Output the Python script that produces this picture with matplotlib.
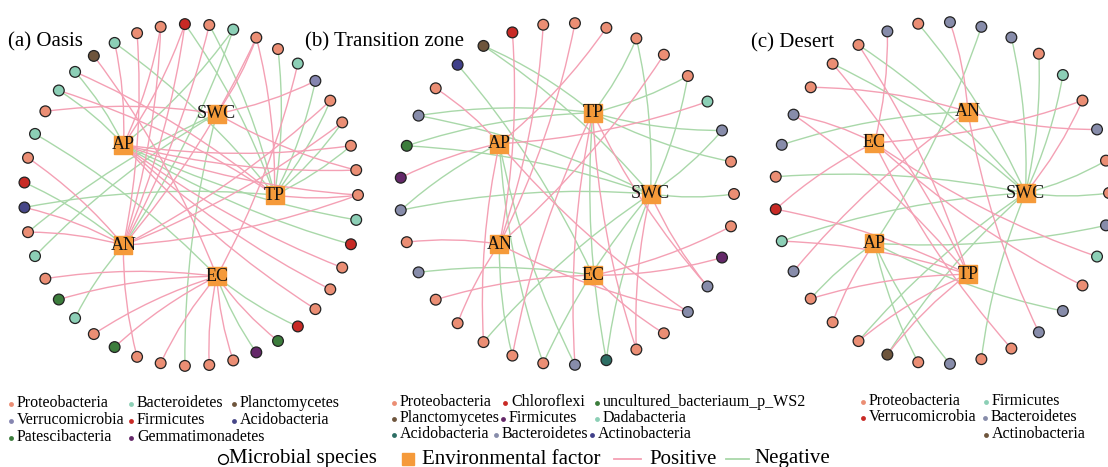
import numpy as np
import matplotlib.pyplot as plt
from matplotlib.path import Path
from matplotlib.patches import PathPatch

plt.rcParams['font.family'] = ['Liberation Serif', 'DejaVu Serif']

# phylum colours
colors = {
    'Proteo': '#EB8E74', 'Bactero_a': '#8CCFB6', 'Plancto': '#6E553C',
    'Verruco_a': '#8585B0', 'Firmi_a': '#C82A25', 'Acido_a': '#474788',
    'Patesci': '#3C7D3C', 'Gemmati': '#642869',
    'Chloro': '#C82A25', 'WS2': '#3C7D3C', 'Firmi_b': '#642869',
    'Dada': '#8CCFB6', 'Acido_b': '#2D6E64', 'Bactero': '#878CAA',
    'Actino_b': '#40408A',
    'Verruco_c': '#C82A25', 'Firmi_c': '#8CCFB6', 'Actino_c': '#6E553C',
}
pos_color = '#F4A0B4'
neg_color = '#A9D8A9'
factor_color = '#F59A3A'

# (a) Oasis: node phyla, counter-clockwise starting from 3 o'clock
oasis_nodes = ['Proteo', 'Proteo', 'Proteo', 'Proteo', 'Proteo', 'Verruco_a', 'Bactero_a',
               'Proteo', 'Proteo', 'Bactero_a', 'Proteo', 'Firmi_a', 'Proteo', 'Proteo',
               'Bactero_a', 'Plancto', 'Bactero_a', 'Bactero_a', 'Proteo', 'Bactero_a',
               'Proteo', 'Firmi_a', 'Acido_a', 'Proteo', 'Bactero_a', 'Proteo', 'Patesci',
               'Bactero_a', 'Proteo', 'Patesci', 'Proteo', 'Proteo', 'Proteo', 'Proteo',
               'Proteo', 'Gemmati', 'Patesci', 'Firmi_a', 'Proteo', 'Proteo', 'Proteo',
               'Firmi_a', 'Bactero_a']
oasis_factors = ['TP', 'SWC', 'AP', 'AN', 'EC']
oasis_pos = [('AP', 11), ('AP', 12), ('AP', 14), ('AP', 2), ('AP', 0), ('AP', 40),
             ('AP', 39), ('AP', 38), ('AP', 1), ('AN', 10), ('AN', 11), ('AN', 12),
             ('AN', 13), ('AN', 8), ('AN', 4), ('AN', 3), ('AN', 0), ('AN', 20),
             ('AN', 22), ('AN', 23), ('AN', 30), ('SWC', 18), ('SWC', 1), ('SWC', 5),
             ('SWC', 8), ('TP', 8), ('TP', 0), ('TP', 16), ('TP', 17), ('EC', 6),
             ('EC', 36), ('EC', 34), ('EC', 33), ('EC', 31), ('EC', 29), ('EC', 28),
             ('EC', 26), ('EC', 25), ('EC', 15)]
oasis_neg = [('AP', 9), ('AP', 16), ('AP', 17), ('AP', 41), ('AP', 42), ('AN', 21),
             ('AN', 27), ('AN', 9), ('SWC', 32), ('SWC', 24), ('SWC', 23), ('TP', 14),
             ('TP', 10), ('TP', 11), ('TP', 7), ('TP', 5), ('TP', 4), ('TP', 3),
             ('TP', 2), ('TP', 22), ('EC', 37), ('EC', 35), ('EC', 19)]

# (b) Transition zone
trans_nodes = ['Proteo', 'Proteo', 'Bactero', 'Dada', 'Proteo', 'Proteo', 'Proteo',
               'Proteo', 'Proteo', 'Proteo', 'Chloro', 'Plancto', 'Actino_b', 'Proteo',
               'Bactero', 'WS2', 'Firmi_b', 'Bactero', 'Proteo', 'Bactero', 'Proteo',
               'Proteo', 'Proteo', 'Proteo', 'Proteo', 'Bactero', 'Acido_b', 'Proteo',
               'Proteo', 'Bactero', 'Bactero', 'Firmi_b', 'Proteo']
trans_factors = ['SWC', 'TP', 'AP', 'AN', 'EC']
trans_pos = [('AP', 7), ('AP', 3), ('AP', 16), ('AP', 13), ('AP', 22), ('AP', 29),
             ('AN', 10), ('AN', 9), ('AN', 8), ('AN', 5), ('AN', 18), ('AN', 21),
             ('AN', 29), ('TP', 23), ('TP', 25), ('TP', 27), ('TP', 30), ('SWC', 30),
             ('SWC', 27), ('EC', 32), ('EC', 31), ('EC', 20), ('EC', 28)]
trans_neg = [('TP', 11), ('TP', 14), ('TP', 15), ('TP', 6), ('TP', 4), ('TP', 2),
             ('TP', 1), ('TP', 26), ('SWC', 0), ('SWC', 2), ('SWC', 4), ('SWC', 6),
             ('SWC', 11), ('SWC', 14), ('SWC', 15), ('SWC', 17), ('SWC', 22), ('SWC', 24),
             ('SWC', 26), ('AP', 17), ('AP', 24), ('AP', 25), ('AN', 23), ('EC', 19),
             ('EC', 12)]

# (c) Desert
desert_nodes = ['Proteo', 'Proteo', 'Bactero', 'Proteo', 'Firmi_c', 'Proteo', 'Bactero',
                'Bactero', 'Bactero', 'Proteo', 'Bactero', 'Proteo', 'Proteo', 'Proteo',
                'Bactero', 'Bactero', 'Proteo', 'Verruco_c', 'Firmi_c', 'Bactero',
                'Proteo', 'Proteo', 'Proteo', 'Actino_c', 'Proteo', 'Bactero', 'Proteo',
                'Proteo', 'Bactero', 'Bactero', 'Proteo', 'Firmi_c', 'Bactero']
desert_factors = ['SWC', 'AN', 'EC', 'AP', 'TP']
desert_pos = [('AN', 8), ('AN', 2), ('AN', 28), ('AN', 13), ('AN', 19), ('EC', 10),
              ('EC', 3), ('EC', 31), ('EC', 30), ('EC', 17), ('EC', 14), ('EC', 27),
              ('TP', 23), ('TP', 22), ('TP', 20), ('TP', 18), ('TP', 17), ('TP', 14),
              ('TP', 11), ('TP', 12), ('AP', 21), ('SWC', 3)]
desert_neg = [('SWC', 9), ('SWC', 6), ('SWC', 5), ('SWC', 4), ('SWC', 1), ('SWC', 0),
              ('SWC', 26), ('SWC', 23), ('SWC', 22), ('SWC', 18), ('SWC', 16),
              ('SWC', 12), ('SWC', 11), ('AP', 7), ('AP', 32), ('AP', 25), ('AP', 24),
              ('AP', 20), ('AP', 29), ('AN', 15)]

W, H = 1108, 467
fig = plt.figure(figsize=(W / 100, H / 100), dpi=100)
fig.patch.set_facecolor('white')

RX, RY = 167, 171


def draw_net(cx, cy, nodes, factors, pos_links, neg_links):
    w, h = 2.2 * RX, 2.2 * RY
    ax = fig.add_axes([(cx - w / 2) / W, 1 - (cy + h / 2) / H, w / W, h / H])
    ax.set_xlim(-1.1, 1.1)
    ax.set_ylim(-1.1, 1.1)
    ax.axis('off')

    n = len(nodes)
    ang = 2 * np.pi * np.arange(n) / n
    nx, ny = np.cos(ang), np.sin(ang)
    fang = 2 * np.pi * np.arange(5) / 5
    fxy = {f: (0.5 * np.cos(a), 0.5 * np.sin(a)) for f, a in zip(factors, fang)}

    # slightly bent links, factor -> species
    for links, col in ((neg_links, neg_color), (pos_links, pos_color)):
        for f, k in links:
            x0, y0 = fxy[f]
            x2, y2 = nx[k], ny[k]
            dx, dy = x2 - x0, y2 - y0
            ctrl = ((x0 + x2) / 2 + 0.07 * dy, (y0 + y2) / 2 - 0.07 * dx)
            path = Path([(x0, y0), ctrl, (x2, y2)], [Path.MOVETO, Path.CURVE3, Path.CURVE3])
            ax.add_patch(PathPatch(path, fc='none', ec=col, lw=1.0, zorder=1))

    ax.scatter(nx, ny, s=60, c=[colors[p] for p in nodes], edgecolors='#222222',
               linewidths=0.9, zorder=3, clip_on=False)
    for f, (x, y) in fxy.items():
        ax.scatter([x], [y], marker='s', s=150, c=factor_color, zorder=4)
        ax.text(x, y, f, ha='center', va='center', fontsize=13, zorder=5, color='#111111')
    return ax


draw_net(191, 195, oasis_nodes, oasis_factors, oasis_pos, oasis_neg)
draw_net(567, 194, trans_nodes, trans_factors, trans_pos, trans_neg)
draw_net(942, 193, desert_nodes, desert_factors, desert_pos, desert_neg)

# overlay for titles and legends, in pixel units
lay = fig.add_axes([0, 0, 1, 1], zorder=10)
lay.set_xlim(0, W)
lay.set_ylim(H, 0)
lay.axis('off')

lay.text(8, 42, '(a) Oasis', fontsize=15, va='center')
lay.text(305, 42, '(b) Transition zone', fontsize=15, va='center')
lay.text(751, 43, '(c) Desert', fontsize=15, va='center')

leg_a = [('Proteobacteria', 'Proteo', 11, 403), ('Bacteroidetes', 'Bactero_a', 131, 403),
         ('Planctomycetes', 'Plancto', 234, 403),
         ('Verrucomicrobia', 'Verruco_a', 11, 420), ('Firmicutes', 'Firmi_a', 131, 420),
         ('Acidobacteria', 'Acido_a', 234, 420),
         ('Patescibacteria', 'Patesci', 11, 437), ('Gemmatimonadetes', 'Gemmati', 131, 437)]
leg_b = [('Proteobacteria', 'Proteo', 394, 402), ('Chloroflexi', 'Chloro', 505, 402),
         ('uncultured_bacteriaum_p_WS2', 'WS2', 597, 402),
         ('Planctomycetes', 'Plancto', 394, 418), ('Firmicutes', 'Firmi_b', 503, 418),
         ('Dadabacteria', 'Dada', 597, 418),
         ('Acidobacteria', 'Acido_b', 394, 434), ('Bacteroidetes', 'Bactero', 496, 434),
         ('Actinobacteria', 'Actino_b', 592, 434)]
leg_c = [('Proteobacteria', 'Proteo', 863, 401), ('Firmicutes', 'Firmi_c', 986, 401),
         ('Verrucomicrobia', 'Verruco_c', 863, 417), ('Bacteroidetes', 'Bactero', 985, 417),
         ('Actinobacteria', 'Actino_c', 986, 434)]

for items in (leg_a, leg_b, leg_c):
    for label, key, x, y in items:
        lay.plot(x, y + 1, 'o', ms=3.5, color=colors[key], mec='none')
        lay.text(x + 6, y, label, fontsize=11.5, va='center')

# bottom key
lay.plot(223, 459, 'o', ms=7, mfc='white', mec='black', mew=1.0)
lay.text(229, 459, 'Microbial species', fontsize=15, va='center')
lay.plot(408, 459, 's', ms=8, color=factor_color)
lay.text(422, 459, 'Environmental factor', fontsize=15, va='center')
lay.plot([614, 641], [459, 459], color=pos_color, lw=1.3)
lay.text(649, 459, 'Positive', fontsize=15, va='center')
lay.plot([726, 749], [459, 459], color=neg_color, lw=1.3)
lay.text(754, 459, 'Negative', fontsize=15, va='center')

fig.savefig('out.png', dpi=100, facecolor='white')
